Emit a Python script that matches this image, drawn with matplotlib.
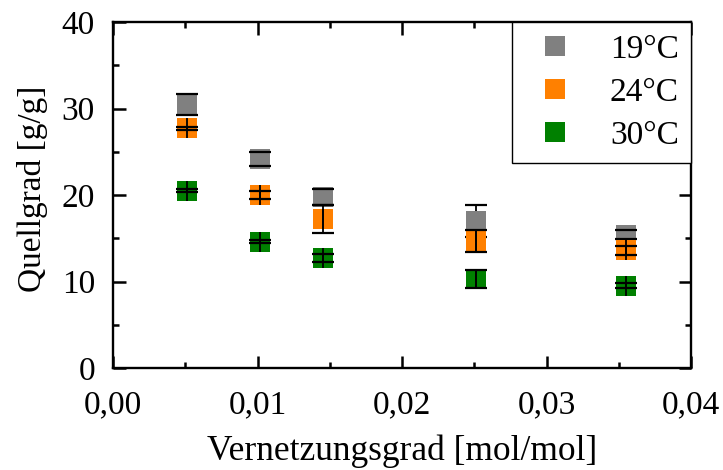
import matplotlib
matplotlib.use('Agg')
import matplotlib.pyplot as plt
from matplotlib.lines import Line2D
from matplotlib.ticker import MultipleLocator, FuncFormatter

plt.rcParams['font.family'] = ['Liberation Serif', 'DejaVu Serif']
plt.rcParams['font.size'] = 24

# Data
vernetzung = [0.0051, 0.0102, 0.0145, 0.0251, 0.0355]
labels = ['19°C', '24°C', '30°C']
colors = ['#808080', '#ff8000', '#008000']
quell_19 = [30.5, 24.2, 19.8, 17.0, 15.4]
err_19 = [1.2, 0.8, 0.9, 1.8, 0.5]
quell_24 = [27.7, 20.0, 17.2, 14.7, 13.6]
err_24 = [0.2, 0.5, 1.6, 1.3, 0.5]
quell_30 = [20.5, 14.6, 12.7, 10.3, 9.5]
err_30 = [0.2, 0.2, 0.5, 1.0, 0.3]

series = [(quell_19, err_19), (quell_24, err_24), (quell_30, err_30)]

fig = plt.figure(figsize=(7.23, 4.70), dpi=100)
ax = fig.add_axes([113 / 723, 1 - 368 / 470, 578 / 723, 346 / 470])

for i, ((y, e), c) in enumerate(zip(series, colors)):
    z = 3 + i * 3
    ax.plot(vernetzung, y, 's', color=c, markersize=14.4, markeredgewidth=0, zorder=z)
    line, caps, bars = ax.errorbar(vernetzung, y, yerr=e, fmt='none', ecolor='black',
                                   elinewidth=1.3, capsize=8, capthick=1.6, zorder=z + 1)
    if i == 0:
        # grey: bar line hidden behind the marker
        for b in bars:
            b.set_zorder(z - 1)
    else:
        ax.plot(vernetzung, y, '|', color='black', markersize=14.4, markeredgewidth=1.3, zorder=z + 1)

ax.set_xlim(0, 0.04)
ax.set_ylim(0, 40)
ax.xaxis.set_major_locator(MultipleLocator(0.01))
ax.xaxis.set_minor_locator(MultipleLocator(0.005))
ax.yaxis.set_major_locator(MultipleLocator(10))
ax.yaxis.set_minor_locator(MultipleLocator(5))
ax.xaxis.set_major_formatter(FuncFormatter(lambda v, p: f'{v:.2f}'.replace('.', ',')))

ax.tick_params(which='both', direction='in', top=True, right=True, width=1.8)
ax.tick_params(which='major', length=9)
ax.tick_params(which='minor', length=4.5)
ax.tick_params(axis='x', which='major', pad=16)
ax.tick_params(axis='y', which='major', pad=13)
for s in ax.spines.values():
    s.set_linewidth(1.7)

ax.set_xlabel('Vernetzungsgrad [mol/mol]', fontsize=25.5, labelpad=10)
ax.set_ylabel('Quellgrad [g/g]')
ax.yaxis.set_label_coords(-0.1125, 0.517)

handles = [Line2D([], [], marker='s', linestyle='none', color=c, markersize=14.4, markeredgewidth=0)
           for c in colors]
leg = ax.legend(handles, labels, loc='upper right', borderaxespad=0, fancybox=False,
                framealpha=1, edgecolor='black', handletextpad=0.72, labelspacing=0.38,
                borderpad=0.36, handlelength=1.85, markerfirst=True)
leg.get_frame().set_linewidth(1.0)
leg.set_zorder(20)

fig.savefig('out.png', dpi=100)
